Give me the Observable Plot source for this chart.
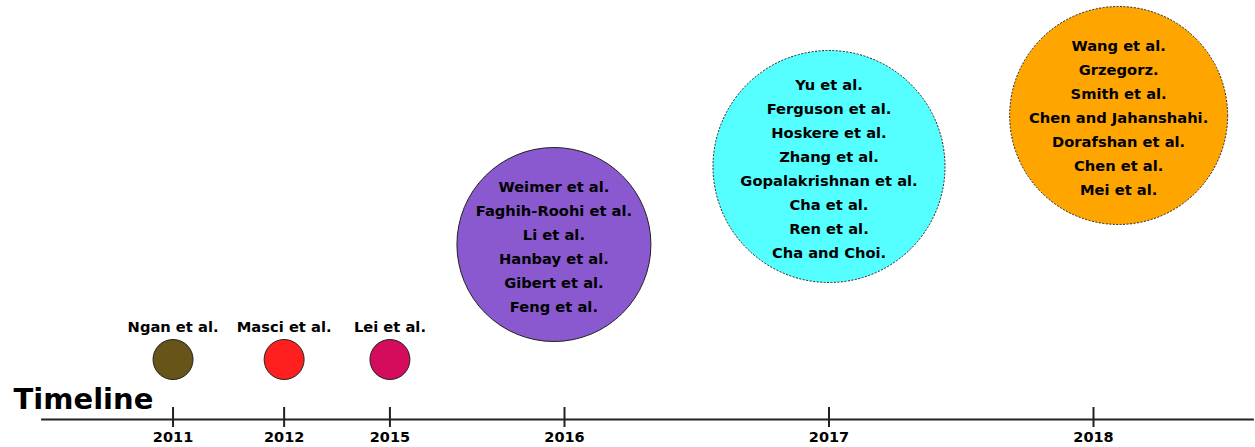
<!DOCTYPE html>
<html>
<head>
<meta charset="utf-8">
<script src="https://cdn.jsdelivr.net/npm/d3@7"></script>
<script src="https://cdn.jsdelivr.net/npm/@observablehq/plot@0.6"></script>
<style>
  html, body { margin: 0; padding: 0; background: #fff; }
  #chart svg { display: block; }
</style>
</head>
<body>
<div id="chart"></div>
<script>
// Years on the timeline and where each sits along it (timeline units)
const years = ["2011", "2012", "2015", "2016", "2017", "2018"];
const yearPos = [0.52, 0.94, 1.34, 2, 3, 4];

// Groups of works, one bubble per year
const groupYear = ["2011", "2012", "2015", "2016", "2017", "2018"];
const groupPos = [0.52, 0.94, 1.34, 1.96, 3.0, 4.095];   // bubble centre along timeline
const groupHeight = [60, 60, 60, 175, 253, 304];        // bubble height above the timeline
const groupSize = [20, 20, 20, 97, 116, 109];           // bubble radius
const groupColor = ["#665419", "#ff1f1f", "#d50b5c", "#8a58cf", "#55ffff", "#ffa500"];
const groupBorder = ["solid", "solid", "solid", "solid", "dotted", "dotted"];
const groupNames = [
  ["Ngan et al."],
  ["Masci et al."],
  ["Lei et al."],
  ["Weimer et al.", "Faghih-Roohi et al.", "Li et al.", "Hanbay et al.", "Gibert et al.", "Feng et al."],
  ["Yu et al.", "Ferguson et al.", "Hoskere et al.", "Zhang et al.", "Gopalakrishnan et al.", "Cha et al.", "Ren et al.", "Cha and Choi."],
  ["Wang et al.", "Grzegorz.", "Smith et al.", "Chen and Jahanshahi.", "Dorafshan et al.", "Chen et al.", "Mei et al."]
];
const title = "Timeline";

// ---- build tables ----
const groups = groupYear.map((y, i) => ({
  year: y, pos: groupPos[i], h: groupHeight[i], r: groupSize[i],
  color: groupColor[i], border: groupBorder[i], names: groupNames[i]
}));
const ticks = years.map((y, i) => ({year: y, pos: yearPos[i]}));

const lineStep = 24;
const inside = [];   // names drawn inside large bubbles
const above = [];    // names drawn above small bubbles
for (const g of groups) {
  if (g.names.length === 1) {
    above.push({name: g.names[0], pos: g.pos, h: g.h + g.r + 12});
  } else {
    const n = g.names.length;
    g.names.forEach((name, i) => {
      inside.push({name, pos: g.pos, h: g.h - 3 - (i - (n - 1) / 2) * lineStep});
    });
  }
}

const font = "DejaVu Sans, Verdana, sans-serif";

const chart = Plot.plot({
  width: 1255,
  height: 447,
  margin: 0,
  x: {type: "linear", domain: [0, 4], range: [35, 1093], axis: null},
  y: {type: "linear", domain: [0, 419], range: [419, 0], axis: null},
  r: {type: "linear", domain: [0, 120], range: [0, 120]},
  style: {fontFamily: font, background: "#fff"},
  marks: [
    // timeline axis line
    Plot.ruleY([0], {x1: 0.023, x2: 4.608, stroke: "#222", strokeWidth: 2}),
    // year ticks crossing the line
    Plot.ruleX(ticks, {x: "pos", y1: -8, y2: 12, stroke: "#222", strokeWidth: 2}),
    Plot.text(ticks, {x: "pos", y: -18, text: "year", fontSize: 14.5, fontWeight: "bold", fill: "#000"}),
    // bubbles
    Plot.dot(groups.filter(d => d.border === "solid"), {
      x: "pos", y: "h", r: "r", fill: "color", stroke: "#222", strokeWidth: 1
    }),
    Plot.dot(groups.filter(d => d.border === "dotted"), {
      x: "pos", y: "h", r: "r", fill: "color", stroke: "#222", strokeWidth: 1, strokeDasharray: "2,1.5"
    }),
    // names
    Plot.text(above, {x: "pos", y: "h", text: "name", fontSize: 14.7, fontWeight: "bold", fill: "#000"}),
    Plot.text(inside, {x: "pos", y: "h", text: "name", fontSize: 14.7, fontWeight: "bold", fill: "#000"}),
    // big title
    Plot.text([title], {x: -0.083, y: 20, text: d => d, textAnchor: "start", fontSize: 29, fontWeight: "bold", fill: "#000"})
  ]
});

document.getElementById("chart").appendChild(chart);
</script>
</body>
</html>
